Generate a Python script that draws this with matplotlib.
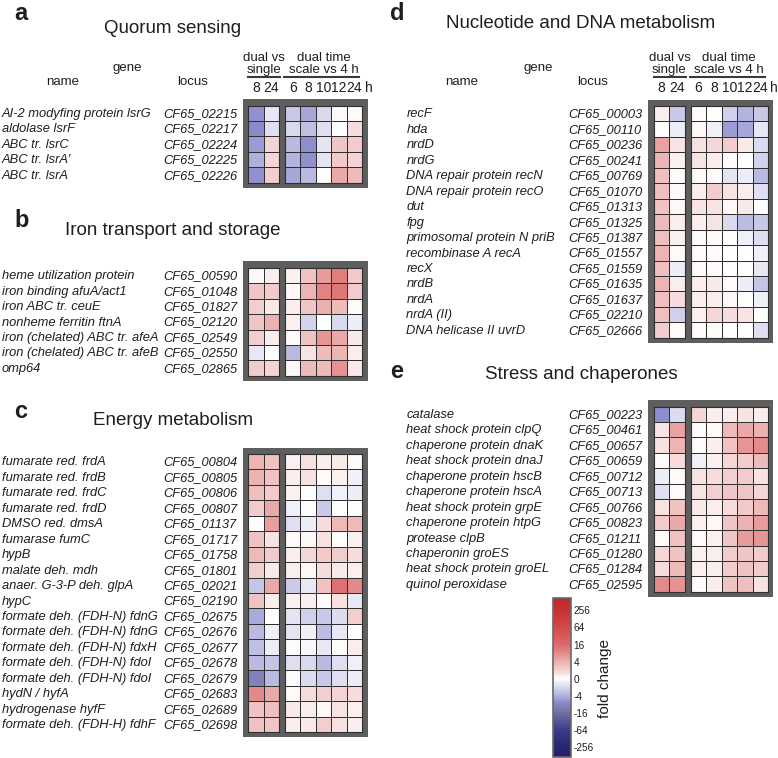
import matplotlib
matplotlib.use("Agg")
import matplotlib.pyplot as plt
import numpy as np
from matplotlib.colors import LinearSegmentedColormap, Normalize
from matplotlib.cm import ScalarMappable
from matplotlib.patches import Rectangle
from matplotlib.transforms import blended_transform_factory

plt.rcParams['font.family'] = ['Liberation Sans', 'DejaVu Sans']

W, H = 778, 758

# column labels
pair_cols = ['8', '24']
time_cols = ['6', '8', '10', '12', '24']

# values: colour scale units (0 = no change, +-4 = +-256 fold)
# columns: dual vs single 8, 24 | dual vs 4 h at 6, 8, 10, 12, 24 h

# a  quorum sensing
qs_names = ['AI-2 modyfing protein lsrG', 'aldolase lsrF', 'ABC tr. lsrC',
            'ABC tr. lsrA\u2032', 'ABC tr. lsrA']
qs_locus = ['CF65_02215', 'CF65_02217', 'CF65_02224', 'CF65_02225', 'CF65_02226']
qs_vals = [[-1.3, -0.3, -0.7, -1.1, -0.5, 0.1, 0.05],
           [-1.4, -0.4, -0.5, -0.8, -0.4, 0.0, 0.4],
           [-1.2, 0.5, -0.9, -1.35, -0.35, 0.7, 0.6],
           [-1.0, 0.45, -0.95, -1.3, -0.35, 0.65, 0.5],
           [-1.3, 0.55, -1.1, -0.9, 0.0, 1.1, 0.85]]

# b  iron transport and storage
fe_names = ['heme utilization protein', 'iron binding afuA/act1', 'iron ABC tr. ceuE',
            'nonheme ferritin ftnA', 'iron (chelated) ABC tr. afeA',
            'iron (chelated) ABC tr. afeB', 'omp64']
fe_locus = ['CF65_00590', 'CF65_01048', 'CF65_01827', 'CF65_02120', 'CF65_02549',
            'CF65_02550', 'CF65_02865']
fe_vals = [[0.1, 0.2, 0.15, 0.75, 1.3, 1.7, 0.65],
           [0.7, 0.6, 0.1, 0.95, 1.6, 1.8, 0.6],
           [0.55, 0.25, 0.2, 0.7, 1.05, 0.85, 0.05],
           [0.7, 1.0, 0.15, -0.55, 0.0, -0.5, -0.25],
           [0.55, 0.2, 0.05, 0.75, 1.35, 1.1, 0.25],
           [-0.3, 0.0, -0.9, 0.3, 0.85, 0.95, 0.2],
           [0.6, 0.5, 0.1, 0.85, 0.85, 1.4, 0.25]]

# c  energy metabolism
en_names = ['fumarate red. frdA', 'fumarate red. frdB', 'fumarate red. frdC',
            'fumarate red. frdD', 'DMSO red. dmsA', 'fumarase fumC', 'hypB',
            'malate deh. mdh', 'anaer. G-3-P deh. glpA', 'hypC',
            'formate deh. (FDH-N) fdnG', 'formate deh. (FDH-N) fdnG',
            'formate deh. (FDH-N) fdxH', 'formate deh. (FDH-N) fdoI',
            'formate deh. (FDH-N) fdoI', 'hydN / hyfA', 'hydrogenase hyfF',
            'formate deh. (FDH-H) fdhF']
en_locus = ['CF65_00804', 'CF65_00805', 'CF65_00806', 'CF65_00807', 'CF65_01137',
            'CF65_01717', 'CF65_01758', 'CF65_01801', 'CF65_02021', 'CF65_02190',
            'CF65_02675', 'CF65_02676', 'CF65_02677', 'CF65_02678', 'CF65_02679',
            'CF65_02683', 'CF65_02689', 'CF65_02698']
en_vals = [[0.95, 0.75, 0.15, 0.35, 0.2, 0.25, 0.05],
           [1.0, 0.75, 0.2, 0.35, 0.05, 0.15, -0.2],
           [0.8, 0.6, 0.15, 0.0, -0.4, -0.2, -0.25],
           [0.6, 1.1, -0.2, 0.0, -0.7, 0.0, 0.0],
           [0.0, 1.25, -0.4, -0.25, 0.4, 0.9, 0.85],
           [0.75, 0.3, 0.05, 0.1, 0.35, 0.0, 0.15],
           [0.9, 0.6, 0.2, 0.45, 0.65, 0.6, 0.4],
           [0.55, 0.25, 0.2, 0.1, 0.4, 0.25, 0.15],
           [-0.75, 1.1, -0.65, -0.3, 0.75, 1.9, 1.5],
           [0.75, 0.2, 0.15, 0.2, 0.05, 0.35, -0.3],
           [-1.05, 0.0, -0.35, -0.6, -0.7, -0.45, 0.55],
           [-0.9, -0.2, -0.35, -0.2, -0.85, -0.3, 0.0],
           [-0.8, -0.25, -0.05, -0.1, -0.3, 0.05, 0.2],
           [-0.9, -0.75, -0.4, -0.5, -0.9, -0.4, -0.2],
           [-1.6, -0.9, -0.05, -0.45, -0.7, -0.4, -0.25],
           [1.5, 1.1, 0.05, 0.4, 0.55, 0.5, 0.4],
           [0.75, 0.8, 0.25, 0.2, 0.1, 0.3, 0.15],
           [0.75, 0.7, 0.2, 0.25, 0.55, 0.35, 0.2]]

# d  nucleotide and DNA metabolism
nu_names = ['recF', 'hda', 'nrdD', 'nrdG', 'DNA repair protein recN',
            'DNA repair protein recO', 'dut', 'fpg', 'primosomal protein N priB',
            'recombinase A recA', 'recX', 'nrdB', 'nrdA', 'nrdA (II)',
            'DNA helicase II uvrD']
nu_locus = ['CF65_00003', 'CF65_00110', 'CF65_00236', 'CF65_00241', 'CF65_00769',
            'CF65_01070', 'CF65_01313', 'CF65_01325', 'CF65_01387', 'CF65_01557',
            'CF65_01559', 'CF65_01635', 'CF65_01637', 'CF65_02210', 'CF65_02666']
nu_vals = [[0.2, -0.7, 0.05, 0.0, -0.6, -0.95, -0.7],
           [0.0, -0.25, 0.1, -0.2, -1.2, -1.1, -0.3],
           [1.2, 0.3, 0.35, 0.45, 0.6, 0.25, -0.45],
           [0.95, 0.15, 0.3, 0.2, 0.05, 0.0, -0.55],
           [0.8, 0.05, 0.05, 0.05, -0.35, -0.25, -0.9],
           [0.8, 0.1, 0.2, 0.6, 0.3, 0.2, -0.4],
           [0.75, 0.1, 0.3, 0.3, 0.1, 0.25, 0.0],
           [0.9, 0.2, 0.2, 0.3, -0.5, -0.85, -0.7],
           [0.8, 0.15, 0.05, 0.05, 0.0, -0.2, -0.4],
           [0.95, 0.05, 0.05, 0.05, 0.0, 0.0, -0.2],
           [0.8, -0.25, 0.05, 0.05, 0.0, 0.0, -0.3],
           [0.95, 0.2, 0.2, 0.25, 0.05, -0.25, -0.75],
           [0.8, 0.4, 0.2, 0.2, 0.1, 0.0, -0.2],
           [0.8, -0.6, 0.15, 0.45, 0.4, 0.3, 0.0],
           [0.6, 0.05, 0.05, 0.05, 0.0, 0.0, -0.4]]

# e  stress and chaperones
st_names = ['catalase', 'heat shock protein clpQ', 'chaperone protein dnaK',
            'heat shock protein dnaJ', 'chaperone protein hscB', 'chaperone protein hscA',
            'heat shock protein grpE', 'chaperone protein htpG', 'protease clpB',
            'chaperonin groES', 'heat shock protein groEL', 'quinol peroxidase']
st_locus = ['CF65_00223', 'CF65_00461', 'CF65_00657', 'CF65_00659', 'CF65_00712',
            'CF65_00713', 'CF65_00766', 'CF65_00823', 'CF65_01211', 'CF65_01280',
            'CF65_01284', 'CF65_02595']
st_vals = [[-1.35, -0.45, 0.45, 0.2, 0.2, 0.3, 0.2],
           [0.3, 1.2, 0.05, 0.05, 0.9, 1.1, 1.0],
           [0.35, 0.95, 0.05, 0.2, 0.75, 1.35, 1.45],
           [0.05, 0.4, -0.2, 0.15, 0.45, 0.6, 0.85],
           [-0.25, 0.05, 0.3, 0.4, 0.55, 0.6, 0.3],
           [-0.4, 0.05, 0.3, 0.55, 0.7, 0.7, 0.45],
           [0.3, 0.75, 0.25, 0.2, 0.4, 0.65, 0.9],
           [0.6, 1.1, 0.15, 0.1, 0.7, 1.0, 1.3],
           [0.05, 0.75, 0.05, 0.15, 0.7, 1.3, 1.35],
           [0.45, 0.75, 0.15, 0.2, 0.6, 0.7, 0.6],
           [0.4, 0.85, 0.15, 0.2, 0.6, 0.75, 0.6],
           [1.5, 1.4, 0.05, 0.2, 0.75, 0.8, 0.3]]

cbar_ticks = [-4, -3, -2, -1, 0, 1, 2, 3, 4]
cbar_labels = ['-256', '-64', '-16', '-4', '0', '4', '16', '64', '256']

# colour scale
VMIN, VMAX = -4.55, 4.7
anchors = [(-4.55, '#22216a'), (-4, '#27276f'), (-3, '#3b3b8b'), (-2, '#70709e'),
           (-1.4, '#8a8acc'), (-1, '#b0b0de'), (-0.5, '#d8d8ee'), (0, '#ffffff'),
           (0.5, '#f3d2d2'), (1, '#ecb2b2'), (1.5, '#e48a8a'), (2, '#dc6a6a'),
           (3, '#d24a4a'), (4, '#c63232'), (4.7, '#c02a2a')]
cmap = LinearSegmentedColormap.from_list(
    'fc', [((u - VMIN) / (VMAX - VMIN), c) for u, c in anchors])
norm = Normalize(VMIN, VMAX)

FRAME = '#5e5e5e'
GRID = '#2f2f2f'
TXT = '#1e1e1e'
CW, RH = 15.45, 15.45

fig = plt.figure(figsize=(W / 100, H / 100), dpi=100)
canvas = fig.add_axes([0, 0, 1, 1])
canvas.set_xlim(0, W)
canvas.set_ylim(H, 0)
canvas.axis('off')


def fax(x0, y0, x1, y1):
    return fig.add_axes([x0 / W, 1 - y1 / H, (x1 - x0) / W, (y1 - y0) / H])


def draw_panel(letter, title, names, locus, vals, side, top, title_y, letter_y,
               header=False):
    xo = 0 if side == 'L' else 405.7
    v = np.array(vals)
    n = len(names)
    bottom = top + n * RH
    canvas.add_patch(Rectangle((242.8 + xo, top - 6.5), 125, n * RH + 11.5,
                               facecolor=FRAME, edgecolor='none'))
    axes = []
    for x0, block in ((248.3 + xo, v[:, :2]), (285.0 + xo, v[:, 2:])):
        ax = fax(x0, top, x0 + block.shape[1] * CW, bottom)
        ax.pcolormesh(block, cmap=cmap, norm=norm, edgecolors=GRID, linewidth=0.7)
        ax.set_xlim(0, block.shape[1])
        ax.set_ylim(n, 0)
        ax.set_xticks([])
        ax.set_yticks([])
        for s in ax.spines.values():
            s.set_color(GRID)
            s.set_linewidth(0.8)
        axes.append(ax)

    # row labels
    tr = blended_transform_factory(canvas.transData, axes[0].transData)
    name_x = 2 if side == 'L' else 406.5
    loc_x = 163.5 if side == 'L' else 568
    for i, (nm, lc) in enumerate(zip(names, locus)):
        axes[0].text(name_x, i + 0.55, nm, transform=tr, style='italic',
                     fontsize=9.3, color=TXT, ha='left', va='center')
        axes[0].text(loc_x, i + 0.55, lc, transform=tr, style='italic',
                     fontsize=9.3, color=TXT, ha='left', va='center')

    canvas.text((14 if side == 'L' else 390), letter_y, letter, fontsize=17,
                fontweight='bold', color=TXT, ha='left', va='baseline')
    canvas.text((173 if side == 'L' else 581), title_y, title, fontsize=13.5,
                color=TXT, ha='center', va='baseline')

    if header:
        hx = (63, 127, 193) if side == 'L' else (462, 538, 593)
        canvas.text(hx[0], 82, 'name', fontsize=9.5, color=TXT, ha='center', va='center')
        canvas.text(hx[1], 68, 'gene', fontsize=9.5, color=TXT, ha='center', va='center')
        canvas.text(hx[2], 82, 'locus', fontsize=9.5, color=TXT, ha='center', va='center')
        g1c = 248.3 + xo + CW
        g2c = 285.0 + xo + 2.5 * CW
        canvas.text(g1c, 58, 'dual vs', fontsize=9.5, color=TXT, ha='center', va='center')
        canvas.text(g1c, 70, 'single', fontsize=9.5, color=TXT, ha='center', va='center')
        canvas.text(g2c, 58, 'dual time', fontsize=9.5, color=TXT, ha='center', va='center')
        canvas.text(g2c, 70, 'scale vs 4 h', fontsize=9.5, color=TXT, ha='center',
                    va='center')
        canvas.plot([248.3 + xo, 280 + xo], [77, 77], color='#3a3a3a', lw=1.5)
        canvas.plot([284 + xo, 359 + xo], [77, 77], color='#3a3a3a', lw=1.5)
        for ax, labels in zip(axes, (pair_cols, time_cols)):
            trc = blended_transform_factory(ax.transData, canvas.transData)
            for j, lab in enumerate(labels):
                ax.text(j + 0.5, 88, lab, transform=trc, fontsize=10, color=TXT,
                        ha='center', va='center')
        canvas.text(368.5 + xo, 88, 'h', fontsize=10, color=TXT, ha='center', va='center')


draw_panel('a', 'Quorum sensing', qs_names, qs_locus, qs_vals, 'L', 105.5, 33, 19.5,
           header=True)
draw_panel('b', 'Iron transport and storage', fe_names, fe_locus, fe_vals, 'L', 267.7,
           235, 227)
draw_panel('c', 'Energy metabolism', en_names, en_locus, en_vals, 'L', 454.0, 425, 418)
draw_panel('d', 'Nucleotide and DNA metabolism', nu_names, nu_locus, nu_vals, 'R', 106.0,
           28, 20, header=True)
draw_panel('e', 'Stress and chaperones', st_names, st_locus, st_vals, 'R', 406.5, 379, 378)

# colour bar
cax = fax(553.3, 598.3, 570.7, 756.7)
cb = fig.colorbar(ScalarMappable(norm=norm, cmap=cmap), cax=cax, ticks=cbar_ticks)
cb.ax.set_yticklabels(cbar_labels)
cb.ax.tick_params(length=0, pad=2, labelsize=7.2, colors=TXT)
cb.outline.set_edgecolor('#6a6a6a')
cb.outline.set_linewidth(1.2)
canvas.text(605, 679, 'fold change', rotation=90, fontsize=11, color=TXT,
            ha='center', va='center')

fig.savefig('out.png', dpi=100)
